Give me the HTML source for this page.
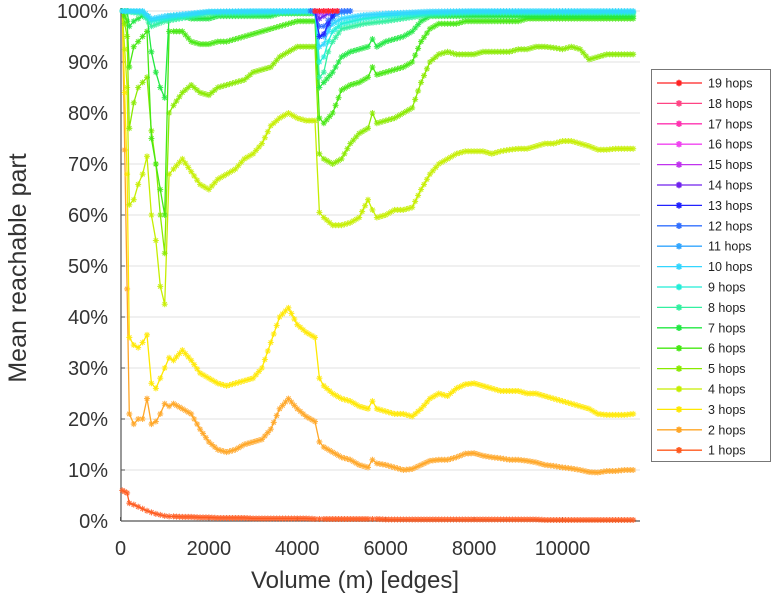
<!DOCTYPE html>
<html><head><meta charset="utf-8"><style>
html,body{margin:0;padding:0;background:#fff;}
svg{display:block;font-family:"Liberation Sans",Arial,sans-serif;}
</style></head><body>
<svg id="chart" width="775" height="600" viewBox="0 0 775 600">
<g id="grid"></g>
<g id="axes"></g>
<g id="series"></g>
<text x="355" y="588" font-size="24" fill="#333" text-anchor="middle">Volume (m) [edges]</text>
<text transform="translate(26,268) rotate(-90)" font-size="25" fill="#333" text-anchor="middle">Mean reachable part</text>
<g id="legend"></g>
</svg>
<script>
const xTicks = [0, 2000, 4000, 6000, 8000, 10000];
const yTicks = [0, 10, 20, 30, 40, 50, 60, 70, 80, 90, 100];
const seriesNames = ["1 hops","2 hops","3 hops","4 hops","5 hops","6 hops","7 hops","8 hops","9 hops","10 hops","11 hops","12 hops","13 hops","14 hops","15 hops","16 hops","17 hops","18 hops","19 hops"];
const colors = ["#ff5a1e","#ffa626","#ffe800","#c6ee00","#8aea00","#46e812","#22e842","#33f0a0","#22eed8","#33d6ff","#33a6ff","#3370ff","#2222ff","#7022ee","#c033ee","#f044f0","#ff33b0","#ff4484","#ff2222"];
const gridX = [40,150,200,300,400,500,600,700,800,900,1000,1100,1200,1400,1600,1800,2000,2200,2400,2600,2800,3000,3200,3400,3600,3800,4000,4200,4400,4500,4600,4800,5000,5200,5400,5600,5700,5800,6000,6200,6400,6600,6800,7000,7200,7400,7600,7800,8000,8200,8400,8600,8800,9000,9200,9400,9600,9800,10000,10200,10400,10600,10800,11000,11200,11400,11600];
const hop1 = [6,5.5,3.5,3.2,2.8,2.4,2,1.7,1.4,1.2,1.0,0.9,0.9,0.8,0.8,0.7,0.7,0.6,0.6,0.6,0.6,0.5,0.5,0.5,0.5,0.5,0.5,0.5,0.4,0.4,0.4,0.4,0.4,0.4,0.4,0.4,0.4,0.4,0.3,0.3,0.3,0.3,0.3,0.3,0.3,0.3,0.3,0.3,0.3,0.3,0.3,0.3,0.3,0.3,0.3,0.3,0.2,0.2,0.2,0.2,0.2,0.2,0.2,0.2,0.2,0.2,0.2];
const hop2 = [100,45.5,21,19,20,20,24,19,19.5,21,23,22.5,23,22,21,18,15.5,14,13.5,14,15,15.5,16,18,22,24,22,20.5,19.5,15.5,14.5,13.5,12.5,12,11,10.5,12,11.3,11,10.5,10,10.2,11,11.8,12,12,12.5,13.2,13.3,12.8,12.5,12.3,12,12,11.8,11.5,11,10.8,10.5,10.3,10,9.6,9.5,9.8,9.8,10,10];
const hop3 = [100,68,36,34.5,34,35,36.5,27,26,28,30,32,31.5,33.5,31.5,29,28,27,26.5,27,27.5,28,30,35,40,41.8,38.5,37,36,28,26.5,25,24,23.5,22.5,22,23.5,22,21.5,21,21,20.5,22,24,25,24.5,26,26.8,27,26.5,26,25.5,25.5,25.5,25,25,24.5,24,23.5,23,22.5,22,21,20.8,20.8,20.8,21];
const hop4 = [100,85,62,63,66,68,71.5,60,55,46,42.5,68,69,71,68.5,66,65,67,68,69,71,72,74,77.5,79,80,79,78.5,78.5,60.5,59.5,58,58,58.5,59.5,63,61,59.5,60,61,61,61.5,65,68,70,71,72,72.5,72.5,72.5,72,72.5,72.8,73,73,73.5,74,74,74.5,74.5,74,73.5,72.8,72.8,73,73,73];
const hop5 = [100,95,77,82,85,86,87,76.5,70,60,52.5,80,81.5,84,85.5,84,83.5,85,85.5,86,86.5,88,88.5,89,91,92,93,93,93,72,71,70,71,74,76,77,80,78,78.5,79,80,81,86,90,91.5,92,91.5,91.5,91.5,92,92,92,92,92.5,92.5,93,93,92.8,92.5,93,92.5,90.5,91,91.5,91.5,91.5,91.5];
const hop6 = [100,98,89,93,94,95,96,75,70,65,60,96,96,96,94,93.5,93.5,94,94,94.5,95,95.5,96,96.5,97,97.5,98,98,98,79,78,80,84.5,85.5,86,87,89,87.5,88,88.5,89,90,94,96.5,97.5,97.5,97.5,98,98,98,98,98,98,98,98.5,98.5,98.5,98.5,98.5,98.5,98.5,98.5,98.5,98.5,98.5,98.5,98.5];
const hop7 = [100,100,97,98,98.5,99,99,92,88,85,83,99,99,99,98.5,98.5,98.5,99,99,99,99,99,99,99,99.5,99.5,99.5,99.5,99.5,85,86,88,91,92,92.5,93,94.5,93,94,94.5,95,96,98,99,99,99,99,99,99,99,99,99,99,99,99,99,99,99,99,99,99,99,99,99,99,99,99];
const highX = [40,500,700,1000,2000,3000,4000,4400,4500,4600,4700,4800,5000,5500,6000,7000,8000,9000,10000,11000,11600];
const hop8 = [100,99.5,97,98,99.5,99.5,99.8,99.8,87,88,92,94,96.5,97.5,98,99.3,99.6,99.6,99.6,99.6,99.6];
const hop9 = [100,99.8,98,98.5,99.8,99.8,99.9,99.9,90,91,94,96,97.5,98.5,99,99.6,99.8,99.8,99.8,99.8,99.8];
const hop10 = [100,100,98.5,99,99.9,100,100,100,93,93.5,96,97.5,98.5,99.2,99.5,99.9,100,100,100,100,100];
const dipX = [4300,4400,4500,4600,4700,4800,4900,5000,5200];
const hop11 = [100,99.5,95,95,97,98.5,99.3,99.7,100];
const hop12 = [100,99.8,97,97,98.2,99.2,99.7,100,100];
const peakX = [4400,4500,4600,4700,4800,4900];
const hop13 = [100,95,95.5,97.5,99,100];
const hop14 = [100,98.5,99,99.5,100,100];
const hop15 = [100,99.5,99.8,100,100,100];
const hop16 = [100,100,100,100,100,100];
const hop17 = [100,100,100,100,100,100];
const hop18 = [100,100,100,100,100,100];
const hop19 = [100,100,100,100,100,100];

const NS = "http://www.w3.org/2000/svg";
function xs(v){ return 120.5 + v * 0.0442; }
function ys(p){ return 521 - p * 5.1; }
function mk(tag, attrs, parent){ const e=document.createElementNS(NS,tag); for(const k in attrs) e.setAttribute(k,attrs[k]); parent.appendChild(e); return e; }

const grid=document.getElementById('grid'), axes=document.getElementById('axes');
yTicks.forEach(t=>{
  if(t>0){ const g=mk('line',{x1:121,x2:640,y1:ys(t),y2:ys(t),stroke:'#e2e2e2','stroke-width':1},grid);
      }
  const tk=mk('line',{x1:121,x2:125,y1:ys(t),y2:ys(t),stroke:'#555','stroke-width':1},axes);
   
  const lb=mk('text',{x:108,y:ys(t)+7,'font-size':20,fill:'#333','text-anchor':'end'},axes);
  lb.textContent=t+'%';
   
});
xTicks.forEach(t=>{
  const tk=mk('line',{x1:xs(t),x2:xs(t),y1:521,y2:517,stroke:'#555','stroke-width':1},axes);
   
  const lb=mk('text',{x:xs(t),y:555,'font-size':20,fill:'#333','text-anchor':'middle'},axes);
  lb.textContent=t;
   
});
const ya=mk('line',{x1:121,x2:121,y1:8,y2:521,stroke:'#555','stroke-width':1.2},axes);
 
const xa=mk('line',{x1:121,x2:640,y1:521,y2:521,stroke:'#555','stroke-width':1.2},axes);
 

function star(cx,cy,r){
  const d=r*0.72;
  return `M${cx-r},${cy}H${cx+r}M${cx},${cy-r}V${cy+r}M${cx-d},${cy-d}L${cx+d},${cy+d}M${cx-d},${cy+d}L${cx+d},${cy-d}`;
}
const seriesData=[[gridX,hop1],[gridX,hop2],[gridX,hop3],[gridX,hop4],[gridX,hop5],[gridX,hop6],[gridX,hop7],
 [highX,hop8],[highX,hop9],[highX,hop10],[dipX,hop11],[dipX,hop12],
 [peakX,hop13],[peakX,hop14],[peakX,hop15],[peakX,hop16],[peakX,hop17],[peakX,hop18],[peakX,hop19]];
const sg=document.getElementById('series');
seriesData.forEach((s,i)=>{
  const X=s[0],Y=s[1]; const col=colors[i];
  const g=mk('g',{},sg);
   
  let d='', m='';
  for(let j=0;j<X.length;j++){
    const px=xs(X[j]), py=ys(Y[j]);
    d+=(j?'L':'M')+px.toFixed(1)+','+py.toFixed(1);
    if(j>0){
      const qx=xs(X[j-1]), qy=ys(Y[j-1]);
      const dx=px-qx;
      const n=Math.max(1,Math.round(Math.abs(dx)/3));
      for(let k=1;k<=n;k++){ const t=k/n; m+=star(qx+dx*t,qy+(py-qy)*t,3); }
    } else m+=star(px,py,3);
  }
  const ln=mk('path',{d:d,fill:'none',stroke:col,'stroke-width':1.3,'stroke-linejoin':'round'},g);
   
  const mp=mk('path',{d:m,fill:'none',stroke:col,'stroke-width':1.1,'stroke-opacity':0.85},g);
   
});

const lg=document.getElementById('legend');
const box=mk('rect',{x:651.5,y:69.5,width:119,height:392,fill:'#fff',stroke:'#777','stroke-width':1},lg);
 
for(let i=18;i>=0;i--){
  const row=18-i; const y=83+row*20.4;
  const e=mk('g',{},lg);
   
  mk('line',{x1:657,x2:702,y1:y,y2:y,stroke:colors[i],'stroke-width':1.3},e);
  mk('path',{d:star(679,y,3.2),stroke:colors[i],'stroke-width':1.6,fill:'none'},e);
  const t=mk('text',{x:708,y:y+4.5,'font-size':12.5,fill:'#222'},e);
  t.textContent=seriesNames[i];
}
</script>
</body></html>
